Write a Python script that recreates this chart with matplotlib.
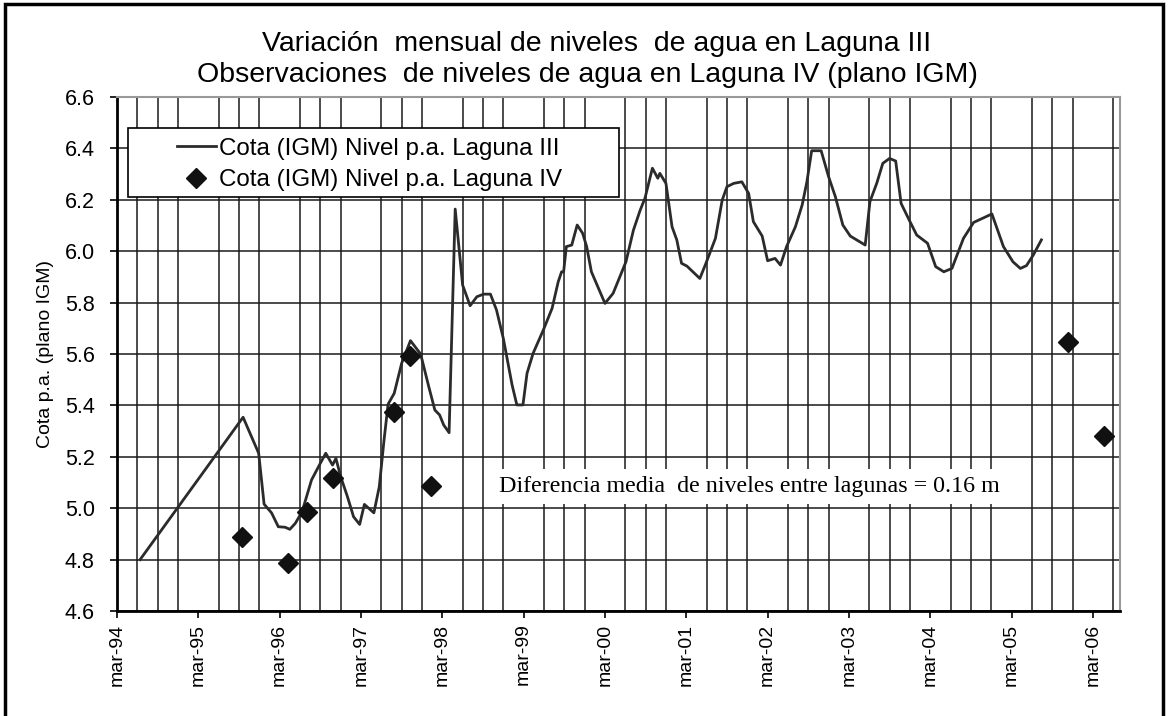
import numpy as np
import matplotlib
matplotlib.use("Agg")
import matplotlib.pyplot as plt
from matplotlib.patches import Rectangle

plt.rcParams['font.family'] = ['Liberation Sans', 'DejaVu Sans']

# months counted from mar-94
mes_l3 = [3.4, 18.6, 20.9, 21.7, 22.8, 23.8, 24.8, 25.5, 26.3, 27.3, 28.7, 30.0,
          30.8, 31.8, 32.3, 33.0, 34.0, 34.9, 35.8, 36.5, 37.9, 38.7, 39.4, 40.0,
          40.9, 42.0, 43.3, 44.8, 46.0, 46.9, 47.6, 48.2, 49.0, 49.9, 51.0, 52.1,
          53.1, 54.1, 55.1, 56.0, 57.0, 58.3, 59.0, 59.9, 60.5, 61.4, 62.9, 64.2,
          65.1, 65.6, 65.9, 66.3, 67.1, 67.9, 68.7, 69.3, 70.0, 72.0, 73.2, 75.1,
          76.2, 77.2, 77.9, 79.0, 79.8, 80.1, 81.0, 81.9, 82.6, 83.3, 84.1, 86.0,
          86.9, 88.3, 89.3, 90.0, 91.0, 92.2, 93.2, 93.9, 95.2, 96.0, 97.1, 97.9,
          98.8, 100.1, 101.1, 101.8, 102.5, 103.9, 105.0, 106.0, 107.1, 108.2, 110.4,
          111.1, 112.1, 113.0, 114.0, 114.9, 115.7, 116.9, 118.0, 119.6, 120.8, 122.0,
          123.2, 124.9, 126.4, 129.1, 130.8, 132.2, 133.3, 134.2, 135.2, 136.4]
cota_l3 = [4.80, 5.354, 5.214, 5.016, 4.982, 4.928, 4.926, 4.918, 4.941, 4.986, 5.110, 5.175,
           5.214, 5.168, 5.194, 5.123, 5.045, 4.967, 4.937, 5.015, 4.982, 5.084, 5.265, 5.405,
           5.447, 5.564, 5.652, 5.600, 5.473, 5.382, 5.363, 5.324, 5.294, 6.164, 5.868, 5.788,
           5.823, 5.833, 5.833, 5.771, 5.661, 5.479, 5.402, 5.402, 5.525, 5.603, 5.693, 5.778,
           5.881, 5.920, 5.920, 6.018, 6.024, 6.102, 6.070, 6.018, 5.920, 5.797, 5.836, 5.959,
           6.082, 6.160, 6.206, 6.323, 6.284, 6.303, 6.264, 6.095, 6.044, 5.953, 5.942, 5.894,
           5.953, 6.050, 6.199, 6.251, 6.264, 6.270, 6.225, 6.115, 6.059, 5.963, 5.972, 5.946,
           6.018, 6.095, 6.180, 6.270, 6.391, 6.391, 6.290, 6.212, 6.102, 6.059, 6.024,
           6.193, 6.264, 6.342, 6.361, 6.351, 6.186, 6.121, 6.063, 6.031, 5.940, 5.920,
           5.933, 6.050, 6.112, 6.145, 6.018, 5.959, 5.933, 5.944, 5.985, 6.044]

mes_l4 = [18.5, 25.3, 28.0, 31.8, 40.8, 43.3, 46.3, 140.4, 145.7]
cota_l4 = [4.887, 4.788, 4.986, 5.119, 5.376, 5.593, 5.088, 5.645, 5.281]

etiquetas = ['mar-94', 'mar-95', 'mar-96', 'mar-97', 'mar-98', 'mar-99', 'mar-00',
             'mar-01', 'mar-02', 'mar-03', 'mar-04', 'mar-05', 'mar-06']

fig = plt.figure(figsize=(11.68, 7.16), dpi=100)
ax = fig.add_axes([0.1002, 0.1466, 0.8587, 0.7179])

ax.plot(mes_l3, cota_l3, color='#2b2b2b', lw=2, zorder=3,
        label='Cota (IGM) Nivel p.a. Laguna III')
ax.plot(mes_l4, cota_l4, ls='none', marker='D', ms=10, color='#111111', zorder=4,
        label='Cota (IGM) Nivel p.a. Laguna IV')

ax.set_xlim(0, 148)
ax.set_ylim(4.6, 6.6)
ax.set_xticks(np.arange(0, 145, 12))
ax.set_xticklabels(etiquetas, rotation=90, fontsize=14)
ax.set_xticks(np.arange(0, 148, 3), minor=True)
ax.set_yticks(np.arange(4.6, 6.61, 0.2))
ax.set_yticklabels(['%.1f' % v for v in np.arange(4.6, 6.61, 0.2)], fontsize=15.5)
ax.tick_params(which='minor', length=0)
ax.tick_params(which='major', length=5, width=1.2, direction='out')
ax.tick_params(axis='x', pad=4)
ax.tick_params(axis='y', pad=11)

ax.grid(True, which='major', axis='y', color='#1a1a1a', lw=1.1)
ax.grid(True, which='minor', axis='x', color='#1a1a1a', lw=1.1)
ax.set_axisbelow(True)

for s in ['left', 'bottom']:
    ax.spines[s].set_linewidth(2)
    ax.spines[s].set_color('black')
for s in ['top', 'right']:
    ax.spines[s].set_linewidth(1.5)
    ax.spines[s].set_color('#999999')

ax.set_ylabel('Cota p.a. (plano IGM)', fontsize=14, labelpad=8)

# legend box
ax.add_patch(Rectangle((0.011, 0.805), 0.489, 0.135, transform=ax.transAxes,
                       facecolor='white', edgecolor='black', lw=1.2, zorder=4.5))
ax.legend(loc='upper left', bbox_to_anchor=(0.05, 0.94), frameon=False,
          fontsize=17.4, handlelength=1.6, handletextpad=0.15, labelspacing=0.4,
          borderaxespad=0)

ax.text(93.3, 5.083, 'Diferencia media  de niveles entre lagunas = 0.16 m',
        family='Liberation Serif', fontsize=17.3, ha='center', va='center', zorder=5,
        bbox=dict(facecolor='white', edgecolor='none', pad=5))

fig.text(0.511, 0.938, 'Variación  mensual de niveles  de agua en Laguna III',
         ha='center', va='center', fontsize=20.5)
fig.text(0.503, 0.895, 'Observaciones  de niveles de agua en Laguna IV (plano IGM)',
         ha='center', va='center', fontsize=20.5)

fig.patches.append(Rectangle((0.004, -0.02), 0.992, 1.014, transform=fig.transFigure,
                             fill=False, lw=2.5, ec='black'))

fig.savefig('out.png', dpi=100)
